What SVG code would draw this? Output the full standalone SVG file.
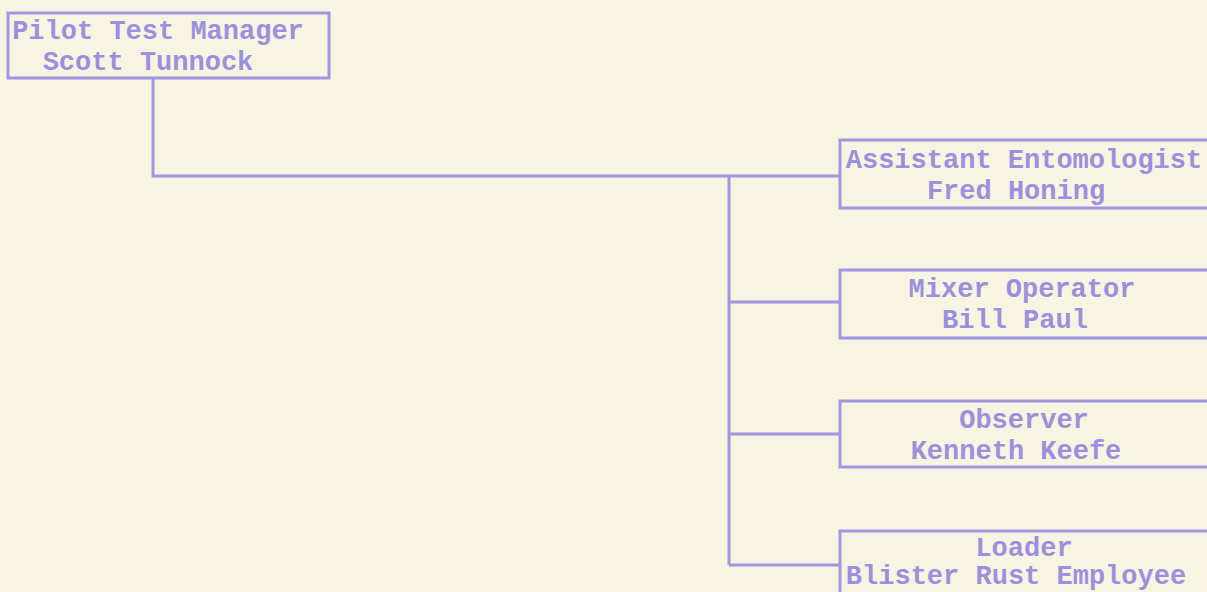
<svg xmlns="http://www.w3.org/2000/svg" width="1207" height="592" viewBox="0 0 1207 592">
<style>
.bg{fill:#f7f5e1}
.box{fill:none;stroke:#a396e0;stroke-width:3}
.ln{fill:none;stroke:#a396e0;stroke-width:3}
text{font-family:"Liberation Mono","DejaVu Sans Mono",monospace;font-weight:bold;font-size:27px;fill:#9d8fe0;text-anchor:middle}
</style>
<rect class="bg" x="0" y="0" width="1207" height="592"/>
<g id="connectors">
<path class="ln" d="M153 79 V176 H840"/>
<path class="ln" d="M729 176 V565"/>
<path class="ln" d="M729 302 H840"/>
<path class="ln" d="M729 434 H840"/>
<path class="ln" d="M729 565 H840"/>
</g>
<g id="manager">
<rect class="box" x="8" y="13" width="321" height="65"/>
<text x="158" y="39">Pilot Test Manager</text>
<text x="148" y="70">Scott Tunnock</text>
</g>
<g id="entomologist">
<rect class="box" x="840" y="140" width="372" height="68"/>
<text x="1024" y="168">Assistant Entomologist</text>
<text x="1016" y="199">Fred Honing</text>
</g>
<g id="mixer">
<rect class="box" x="840" y="270" width="372" height="68"/>
<text x="1022" y="297">Mixer Operator</text>
<text x="1015" y="328">Bill Paul</text>
</g>
<g id="observer">
<rect class="box" x="840" y="401" width="372" height="66"/>
<text x="1024" y="428">Observer</text>
<text x="1016" y="459">Kenneth Keefe</text>
</g>
<g id="loader">
<rect class="box" x="840" y="531" width="372" height="70"/>
<text x="1024" y="556">Loader</text>
<text x="1016" y="584">Blister Rust Employee</text>
</g>
</svg>
